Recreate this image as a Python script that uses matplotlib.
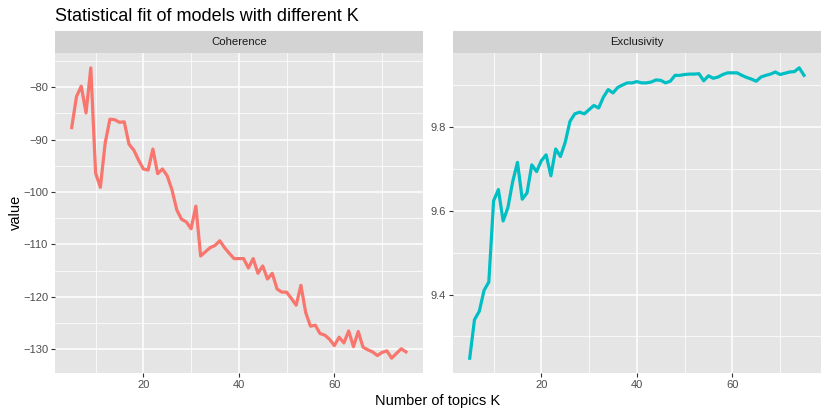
import matplotlib
matplotlib.use("Agg")
import matplotlib.pyplot as plt
from matplotlib.ticker import MultipleLocator
import numpy as np

plt.rcParams['font.family'] = ['Liberation Sans', 'DejaVu Sans']

K = list(range(5, 76))

coherence = [
    -87.7, -81.8, -79.8, -84.9, -76.3, -96.4, -99.1, -90.7, -86.1, -86.2,
    -86.7, -86.6, -90.9, -92.0, -93.9, -95.6, -95.8, -91.8, -96.5, -95.6,
    -96.9, -99.6, -103.4, -105.2, -105.7, -107.0, -102.7, -112.2, -111.4, -110.6,
    -110.2, -109.3, -110.6, -111.7, -112.7, -112.7, -112.7, -114.5, -112.7, -115.5,
    -114.1, -116.6, -115.5, -118.5, -119.1, -119.1, -120.3, -121.6, -117.8, -123.0,
    -125.6, -125.4, -127.0, -127.3, -128.1, -129.3, -127.7, -128.8, -126.5, -129.5,
    -126.6, -129.6, -130.1, -130.5, -131.2, -130.6, -130.3, -131.7, -130.8, -129.9,
    -130.5,
]

exclusivity = [
    9.248, 9.340, 9.360, 9.410, 9.430, 9.624, 9.651, 9.576, 9.608, 9.670,
    9.716, 9.628, 9.643, 9.710, 9.694, 9.720, 9.734, 9.684, 9.748, 9.730,
    9.764, 9.814, 9.832, 9.836, 9.832, 9.842, 9.852, 9.846, 9.872, 9.890,
    9.882, 9.895, 9.901, 9.906, 9.906, 9.909, 9.906, 9.906, 9.908, 9.913,
    9.912, 9.906, 9.910, 9.924, 9.924, 9.926, 9.927, 9.927, 9.928, 9.911,
    9.923, 9.917, 9.920, 9.926, 9.930, 9.930, 9.930, 9.924, 9.919, 9.915,
    9.910, 9.920, 9.924, 9.927, 9.932, 9.926, 9.929, 9.932, 9.933, 9.942,
    9.924,
]

panels = ["Coherence", "Exclusivity"]
colors = ["#F8766D", "#00BFC4"]
series = [coherence, exclusivity]
x_ticks = [20, 40, 60]
y_major = [[-130, -120, -110, -100, -90, -80], [9.4, 9.6, 9.8]]

W, H = 828, 415
fig = plt.figure(figsize=(W / 100, H / 100), dpi=100)

def fx(px):
    return px / W

def fy(py):
    return 1 - py / H

panel_x = [(55, 422.7), (453, 820.7)]
top, bottom, strip_top = 53.3, 372.7, 31.0

for i in range(2):
    x0, x1 = panel_x[i]
    ax = fig.add_axes([fx(x0), fy(bottom), fx(x1 - x0), (bottom - top) / H])
    ax.set_facecolor("#E5E5E5")
    vals = series[i]
    ax.plot(K, vals, color=colors[i], lw=2.3, solid_joinstyle='round', zorder=3)
    xmin, xmax = min(K), max(K)
    xr = xmax - xmin
    ax.set_xlim(xmin - 0.05 * xr, xmax + 0.05 * xr)
    ymin, ymax = min(vals), max(vals)
    yr = ymax - ymin
    ax.set_ylim(ymin - 0.05 * yr, ymax + 0.05 * yr)
    ax.set_xticks(x_ticks)
    ax.set_yticks(y_major[i])
    ax.xaxis.set_minor_locator(MultipleLocator(10))
    step = y_major[i][1] - y_major[i][0]
    ax.yaxis.set_minor_locator(MultipleLocator(step / 2))
    ax.grid(which='major', color='white', lw=1.1, zorder=1)
    ax.grid(which='minor', color='white', lw=0.55, zorder=1)
    ax.set_axisbelow(True)
    ax.tick_params(which='minor', length=0)
    ax.tick_params(which='major', length=3, width=0.8, color='#333333',
                   labelsize=8, labelcolor='#4D4D4D', pad=2)
    if i == 1:
        ax.set_yticklabels([f"{v:.1f}" for v in y_major[i]])
    for s in ax.spines.values():
        s.set_visible(False)
    # strip
    sax = fig.add_axes([fx(x0), fy(top), fx(x1 - x0), (top - strip_top) / H])
    sax.set_facecolor("#D3D3D3")
    sax.set_xticks([]); sax.set_yticks([])
    for s in sax.spines.values():
        s.set_visible(False)
    sax.text(0.5, 0.5, panels[i], ha='center', va='center', fontsize=8.2,
             color='#1A1A1A', transform=sax.transAxes)

fig.text(fx(55), fy(21), "Statistical fit of models with different K",
         fontsize=13, ha='left', va='baseline', color='black')
fig.text(fx(438), fy(405), "Number of topics K", fontsize=10.5,
         ha='center', va='baseline', color='black')
fig.text(fx(16), fy(212), "value", fontsize=10.5, rotation=90,
         ha='center', va='center', color='black')

fig.savefig("out.png", dpi=100)
